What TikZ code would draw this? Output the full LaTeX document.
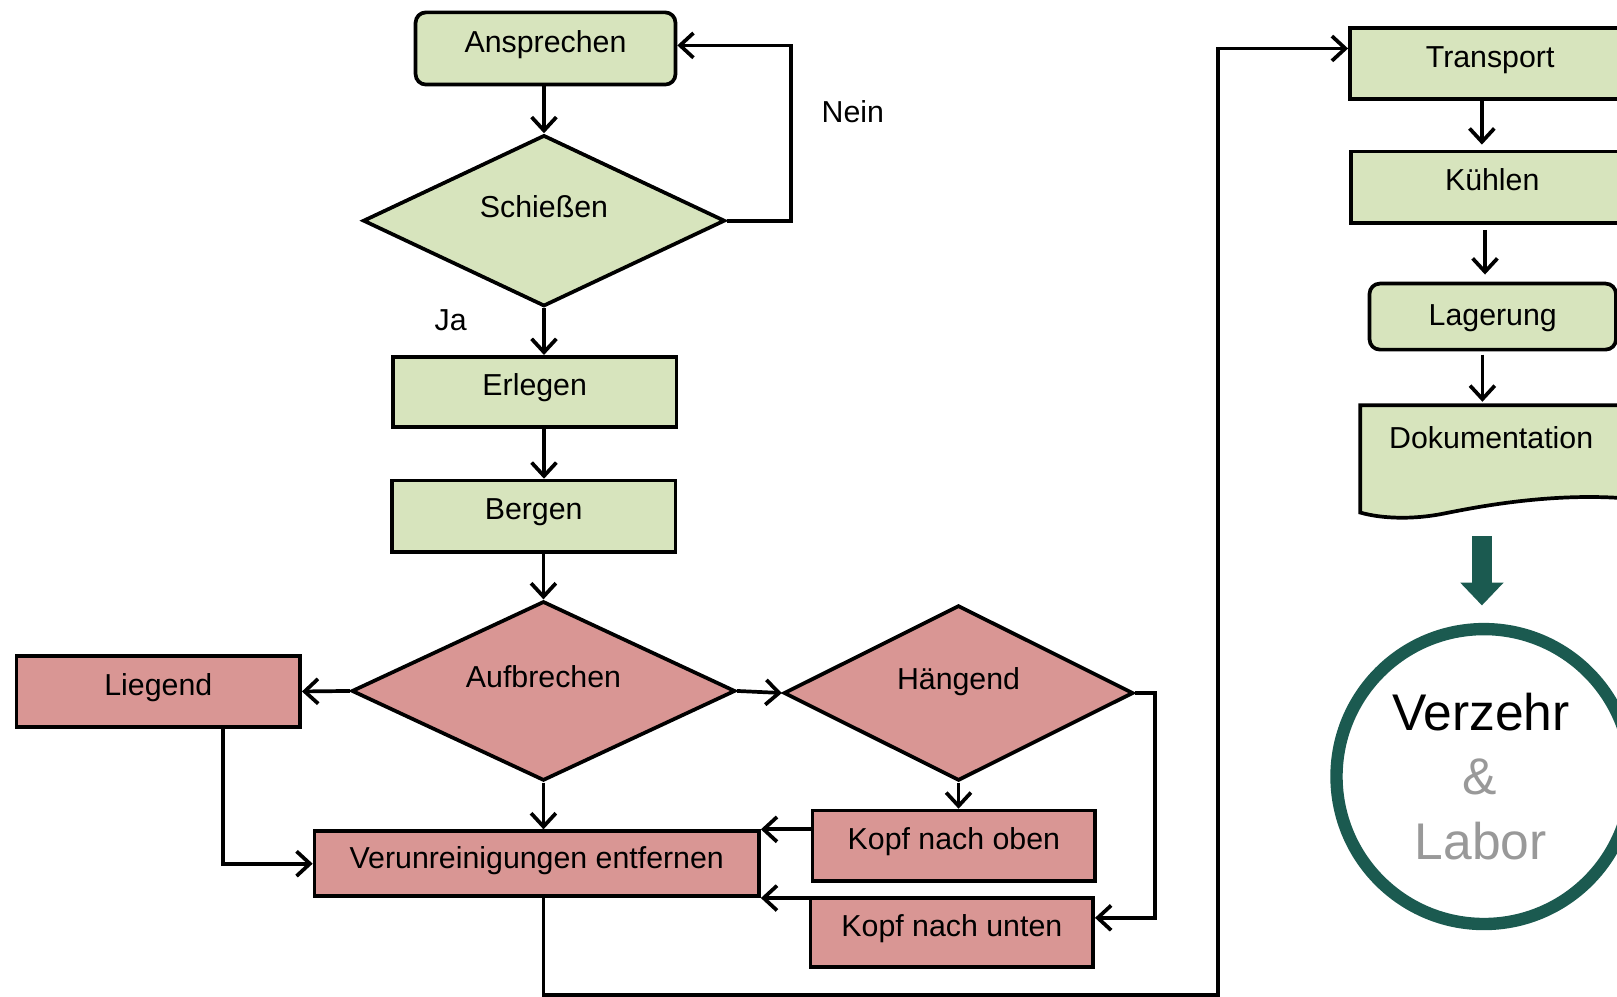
\documentclass[tikz,border=0pt]{standalone}
\usepackage{fontspec}
\setmainfont{Liberation Sans}
\usetikzlibrary{shapes.geometric, arrows.meta}
\definecolor{gfill}{HTML}{D7E4BD}
\definecolor{rfill}{HTML}{D99694}
\definecolor{circgreen}{HTML}{1B5A50}
\definecolor{lgray}{HTML}{999999}
\begin{document}
\begin{tikzpicture}[x=0.5pt, y=-0.5pt,
  base/.style={draw=black, line width=1.8pt, inner sep=0pt, font=\fontsize{14.7}{17}\selectfont, text height=11pt, text depth=7.35pt},
  gbox/.style={base, rectangle, fill=gfill},
  rbox/.style={base, rectangle, fill=rfill},
  gdia/.style={base, diamond, shape aspect=2, fill=gfill, text height=8.8pt, text depth=11.8pt},
  rdia/.style={base, diamond, shape aspect=2, fill=rfill, text height=8.8pt, text depth=11.8pt},
  conn/.style={line width=1.8pt, -{Straight Barb[length=6.5pt,width=12pt]}},
  lbl/.style={font=\fontsize{14.7}{17}\selectfont, anchor=base, inner sep=0pt}]
\useasboundingbox (0,0) rectangle (1568,966);
\clip (0,0) rectangle (1568,966);

% left column
\node[gbox, rounded corners=5pt, minimum width=126pt, minimum height=35pt] (ansp) at (529,47) {Ansprechen};
\node[gdia, minimum width=175.5pt, minimum height=83pt] (schiess) at (527.5,214) {Schießen};
\node[gbox, minimum width=137.5pt, minimum height=34pt] (erl) at (518.5,380) {Erlegen};
\node[gbox, minimum width=137.5pt, minimum height=34.5pt] (berg) at (517.5,500.5) {Bergen};
\node[rdia, minimum width=186pt, minimum height=87pt] (aufb) at (527,670) {Aufbrechen};
\node[rbox, minimum width=137.5pt, minimum height=34.5pt] (lieg) at (153.5,670.5) {Liegend};
\node[rdia, minimum width=169.5pt, minimum height=85pt] (haeng) at (929.5,672) {Hängend};
\node[rbox, minimum width=137pt, minimum height=34pt] (koben) at (925,820) {Kopf nach oben};
\node[rbox, minimum width=137pt, minimum height=33.5pt] (kunten) at (923,904.5) {Kopf nach unten};
\node[rbox, minimum width=215.5pt, minimum height=31.5pt, text depth=6.5pt] (verun) at (520.5,837.5) {Verunreinigungen entfernen};

% right column
\node[gbox, minimum width=136pt, minimum height=34.5pt] (trans) at (1445,61.5) {Transport};
\node[gbox, minimum width=137pt, minimum height=34.5pt] (kuehl) at (1447,181.5) {Kühlen};
\node[gbox, rounded corners=5pt, minimum width=119.5pt, minimum height=32pt, text height=11pt, text depth=2.8pt] (lager) at (1447.5,307) {Lagerung};
\draw[line width=1.8pt, fill=gfill] (1319,393) -- (1573,393) -- (1573,483)
  .. controls (1500,478) and (1430,492) .. (1400,498)
  .. controls (1370,504) and (1340,503) .. (1319,497) -- cycle;
\node[rectangle, inner sep=0pt, minimum width=127pt, minimum height=45pt, font=\fontsize{14.7}{17}\selectfont, text height=8.8pt, text depth=11.8pt] (doc) at (1446,438) {Dokumentation};

\node[circle, draw=circgreen, line width=6pt, fill=white, minimum size=143pt, inner sep=0pt, align=center, font=\fontsize{25}{31.25}\selectfont] (circ) at (1439,753) {\hspace*{-3pt}Verzehr\\{\color{lgray}\hspace*{-4pt}\&}\\{\color{lgray}\hspace*{-3pt}Labor}};

% labels
\node[lbl] (ja) at (437,320.5) {Ja};
\node[lbl] (nein) at (827,118.5) {Nein};

% connectors
\draw[conn] (ansp.south -| schiess.north) -- (schiess.north);
\draw[conn] (schiess.east) -- ++(62,0) |- ([yshift=1.5pt]ansp.east);
\draw[conn] (schiess.south) -- (schiess.south |- erl.north);
\draw[conn] (erl.south -| schiess.south) -- (schiess.south |- berg.north);
\draw[conn] (berg.south -| aufb.north) -- (aufb.north);
\draw[conn] (aufb.west) -- (lieg.east);
\draw[conn] (aufb.east) -- (haeng.west);
\draw[conn] ([xshift=31.25pt]lieg.south) |- (verun.west);
\draw[conn] (aufb.south) -- (aufb.south |- verun.north);
\draw[conn] (haeng.south) -- (haeng.south |- koben.north);
\draw[conn] (haeng.east) -- ++(19,0) |- ([yshift=7.25pt]kunten.east);
\draw[conn] (koben.west |- verun.north east) -- (verun.north east);
\draw[conn] (kunten.west |- verun.south east) -- (verun.south east);
\coordinate (bl) at (1181,964.5);
\draw[conn] (verun.south -| aufb.south) |- (bl) |- ([yshift=7.25pt]trans.west);
\draw[conn, shorten >=2.5pt] ([xshift=-4pt]trans.south) -- ([xshift=-4pt]trans.south |- kuehl.north);
\draw[conn, shorten <=2.5pt, shorten >=3.5pt] ([xshift=-3.5pt]kuehl.south) -- ([xshift=-3.5pt]kuehl.south |- lager.north);
\draw[conn, shorten <=1.5pt, shorten >=1.5pt] ([xshift=-5pt]lager.south) -- ([xshift=-5pt]lager.south |- doc.north);

\coordinate (docarr) at (1437,520);
\draw[circgreen, line width=10pt, -{Triangle[length=11pt,width=21pt,line width=0pt]}, shorten >=8.5pt] (docarr) -- (docarr |- circ.north);
\end{tikzpicture}
\end{document}
